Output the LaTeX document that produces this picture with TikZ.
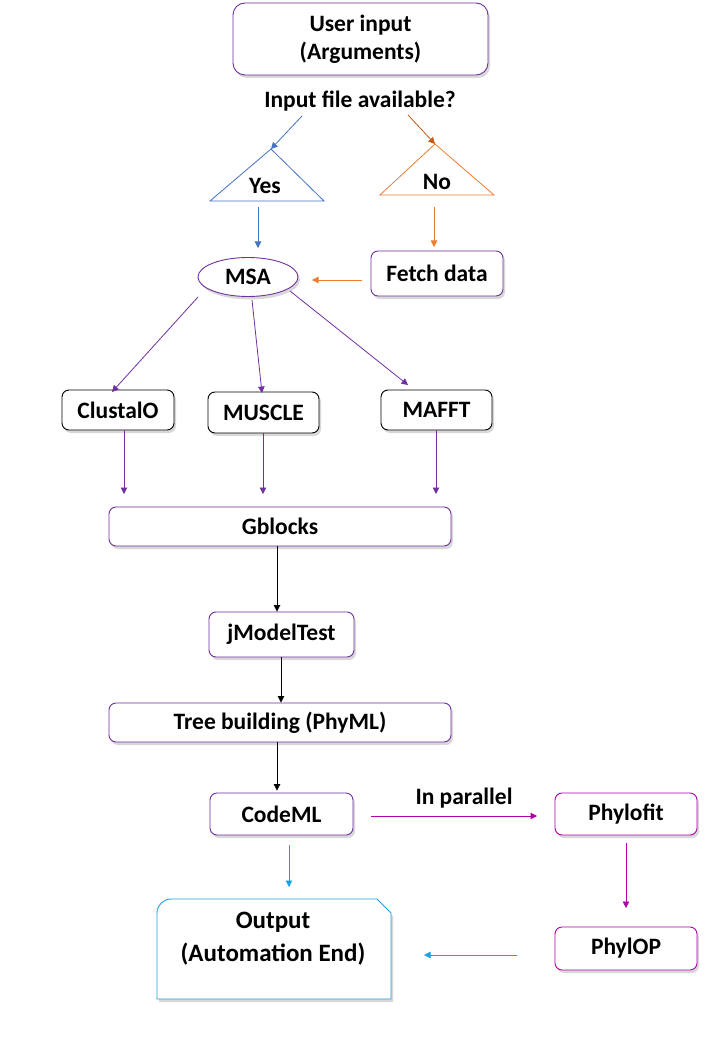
\documentclass[tikz,border=0pt]{standalone}
\usepackage{fontspec}
\setmainfont{Carlito}
\usetikzlibrary{arrows.meta,shapes.geometric,shadows}
\definecolor{purp}{HTML}{7030A0}
\definecolor{blu}{HTML}{4472C4}
\definecolor{orng}{HTML}{ED7D31}
\definecolor{orngd}{HTML}{C55A11}
\definecolor{mag}{HTML}{B000A8}
\definecolor{cyn}{HTML}{1BA1E2}
\tikzset{
  shad/.style={drop shadow={opacity=0.3, shadow xshift=2pt, shadow yshift=-3pt}},
  boxbase/.style={rounded corners=7pt, fill=white, line width=0.9pt, shad,
    font=\bfseries\fontsize{23.5}{28}\selectfont, align=center, inner sep=0pt},
  pbox/.style={boxbase, draw=purp},
  kbox/.style={boxbase, draw=black},
  mbox/.style={boxbase, draw=mag},
  lbl/.style={font=\bfseries\fontsize{23.5}{28}\selectfont, inner sep=0pt},
  arr/.style={-{Triangle[length=6.5pt,width=6.5pt]}, line width=0.8pt},
}
\begin{document}
\begin{tikzpicture}[x=1pt,y=-1pt]
\useasboundingbox[fill=white] (0,0) rectangle (720,1040);

% top
\node[pbox, minimum width=255pt, minimum height=72pt, rounded corners=12pt] (user) at (360.5,39) {User input\\(Arguments)};
\node[lbl] (q) at (360,101.5) {Input file available?};
\coordinate (q1) at (302,116);
\coordinate (q2) at (408,115);

% triangles
\coordinate (yesA) at (271,149);
\draw[blu, line width=0.8pt, fill=white] (yesA) -- (324,201) -- (210,201) -- cycle;
\node[lbl] (yes) at (265,186) {Yes};
\coordinate (noA) at (435,144);
\draw[orng, line width=0.8pt, fill=white] (noA) -- (494,195) -- (380,195) -- cycle;
\node[lbl] (no) at (437,182) {No};
\draw[arr, blu] (q1) -- (yesA);
\draw[arr, orngd] (q2) -- (noA);
\coordinate (yesB) at (258,207);
\coordinate (noB) at (434,207);

% MSA and fetch
\node[ellipse, draw=purp, fill=white, line width=0.9pt, shad, minimum width=100pt, minimum height=39pt,
  inner sep=0pt, font=\bfseries\fontsize{23.5}{28}\selectfont] (msa) at (248,277) {MSA};
\node[pbox, minimum width=132pt, minimum height=45pt] (fetch) at (437,273.5) {Fetch data};
\coordinate (msaIn) at (258,248);
\coordinate (fetchIn) at (434,247);
\draw[arr, blu] (yesB) -- (msaIn);
\draw[arr, orng] (noB) -- (fetchIn);
\coordinate (fOut) at (362,280);
\coordinate (mIn) at (312,280);
\draw[arr, orng] (fOut) -- (mIn);

% aligners
\node[kbox, minimum width=112pt, minimum height=40pt] (clustal) at (118,410) {ClustalO};
\node[kbox, minimum width=111pt, minimum height=41pt] (muscle) at (263.5,412.5) {MUSCLE};
\node[kbox, minimum width=111pt, minimum height=40pt] (mafft) at (436.5,410) {MAFFT};
\coordinate (m1) at (198,297);
\coordinate (m2) at (252,300);
\coordinate (m3) at (290,291);
\coordinate (c1) at (112,392);
\coordinate (c2) at (262,393);
\coordinate (c3) at (408,385);
\draw[arr, purp] (m1) -- (c1);
\draw[arr, purp] (m2) -- (c2);
\draw[arr, purp] (m3) -- (c3);

% Gblocks
\node[pbox, minimum width=342pt, minimum height=39pt] (gblocks) at (280,526.5) {Gblocks};
\coordinate (g1) at (124,494);
\coordinate (g2) at (263,494);
\coordinate (g3) at (436,494);
\draw[arr, purp] (clustal.south -| 124,0) -- (g1);
\draw[arr, purp] (muscle.south -| 263,0) -- (g2);
\draw[arr, purp] (mafft.south -| 436,0) -- (g3);

% chain
\node[pbox, minimum width=145pt, minimum height=45pt] (jmt) at (281.5,634.5) {jModelTest};
\node[pbox, minimum width=342pt, minimum height=39pt] (tree) at (280,722.5) {Tree building (PhyML)};
\node[pbox, minimum width=143pt, minimum height=42pt] (codeml) at (281.5,814) {CodeML};
\draw[arr, black] (gblocks.south -| 277,0) -- (jmt.north -| 277,0);
\draw[arr, black] (jmt.south -| 281,0) -- (tree.north -| 281,0);
\draw[arr, black] (tree.south -| 277,0) -- ([yshift=2pt]codeml.north -| 277,0);

% parallel branch
\node[mbox, minimum width=142pt, minimum height=42pt] (phylofit) at (626,814) {Phylofit};
\node[mbox, minimum width=142pt, minimum height=43pt] (phylop) at (626,948.5) {PhylOP};
\coordinate (cR) at (371,816);
\coordinate (pL) at (537,816);
\draw[arr, mag] (cR) -- (pL);
\node[lbl] (par) at (464,798) {In parallel};
\coordinate (pf1) at (626,843);
\coordinate (pf2) at (626,908);
\draw[arr, mag] (pf1) -- (pf2);

% output
\draw[cyn, line width=0.9pt, fill=white, shad] (157,999) [rounded corners=14pt] -- (157,899) [sharp corners] -- (377,899) -- (391,913) -- (391,999) -- cycle;
\node[align=center, inner sep=0pt, font=\bfseries\fontsize{25}{33}\selectfont] (output) at (273,939) {Output\\(Automation End)};
\coordinate (o1) at (289,845);
\coordinate (o2) at (289,887);
\draw[arr, cyn] (o1) -- (o2);
\coordinate (pp1) at (517,955);
\coordinate (pp2) at (424,955);
\draw[arr, cyn] (pp1) -- (pp2);
\end{tikzpicture}
\end{document}
